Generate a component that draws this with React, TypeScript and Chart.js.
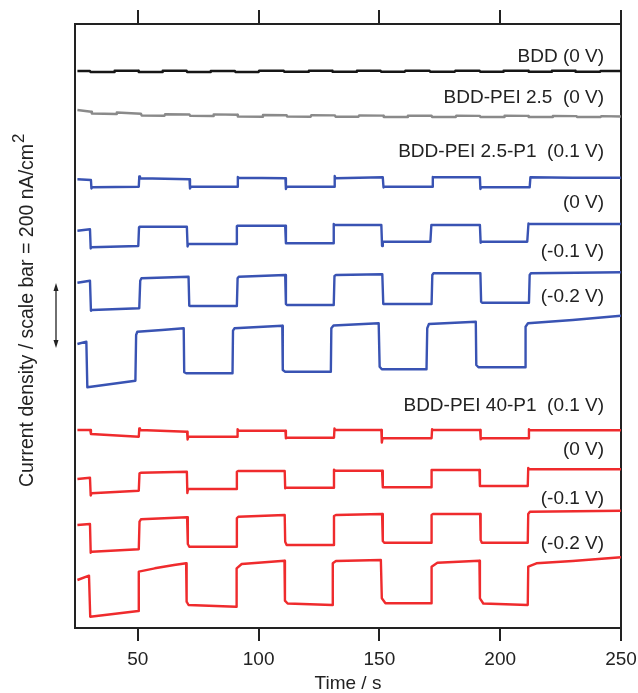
import { useEffect, useRef } from "react";
import { Chart, registerables } from "chart.js";

Chart.register(...registerables);

const FONT = "'Liberation Sans', Arial, Helvetica, sans-serif";
const INK = "#222222";

// X axis ticks (time, s)
const xTickValues = [50, 100, 150, 200, 250];

// Stacked current traces, offset units (65 units = 200 nA/cm^2 scale bar)
const bddTime = [25, 30.2, 30.4, 40.2, 40.4, 50.2, 50.4, 60.1, 60.3, 70.2, 70.4, 80.0, 80.2, 90.2, 90.4, 100.0, 100.2, 110.4, 110.6, 120.6, 120.8, 130.4, 130.6, 140.5, 140.7, 150.5, 150.7, 160.5, 160.7, 170.8, 171.0, 181.2, 181.4, 191.5, 191.7, 201.2, 201.4, 211.6, 211.8, 221.2, 221.4, 231.0, 231.2, 241.3, 241.5, 250];
const bddValues = [557, 557, 556, 556, 557.2, 557.2, 556, 556, 557.2, 557.2, 556, 556, 557, 557, 556, 556, 557.2, 557.2, 556.2, 556.2, 557.2, 557.2, 556.3, 556.3, 557.2, 557.2, 556.3, 556.3, 557.2, 557.2, 556.3, 556.3, 557.2, 557.2, 556.3, 556.3, 557.2, 557.2, 556.3, 556.3, 557.2, 557.2, 556.3, 556.3, 557, 557];

const pei25Time = [25, 30.7, 31.0, 41.0, 41.3, 51.3, 51.6, 61.1, 61.3, 71.4, 71.7, 81.2, 81.4, 91.2, 91.4, 101.6, 101.8, 111.6, 111.8, 121.6, 121.8, 131.6, 131.8, 141.4, 141.6, 151.6, 151.8, 161.6, 161.8, 171.6, 171.8, 181.6, 181.8, 191.6, 191.8, 201.6, 201.8, 211.6, 211.8, 221.6, 221.8, 231.6, 231.8, 241.6, 241.8, 250];
const pei25Values = [518, 516.3, 514.5, 514, 515.5, 514.2, 512.5, 512.3, 513.8, 513.5, 512.2, 512, 513.6, 513.3, 511.5, 511.3, 513, 512.8, 511.4, 511.3, 512.8, 512.6, 511.3, 511.3, 512.6, 512.4, 511.1, 511, 512.4, 512.2, 511, 511, 512.3, 512.1, 511, 511, 512.2, 512.1, 511, 511, 512.1, 511.9, 511, 511, 511.9, 511.5];

const p1a01Time = [25, 30.6, 30.8, 31.1, 50.4, 50.6, 50.9, 71.4, 71.6, 71.9, 91.2, 91.4, 91.7, 111.1, 111.3, 111.6, 131.3, 131.5, 131.8, 151.4, 151.7, 152.0, 171.8, 172.1, 172.4, 191.6, 191.8, 192.1, 212.2, 212.5, 230, 250];
const p1a01Values = [448.7, 448, 439.5, 440.7, 441.3, 451.5, 449.7, 448.7, 439.5, 441.3, 441.3, 451, 450.3, 449.7, 439, 441.3, 441.3, 452, 449.7, 450.7, 440.5, 441.3, 441.3, 451, 450.7, 450.7, 439, 440.7, 440.7, 450.7, 450.2, 450.2];

const p1a00Time = [25, 30.2, 30.5, 30.8, 50.2, 50.5, 50.8, 70.3, 70.6, 70.9, 90.7, 91, 91.3, 111, 111.3, 130.8, 131.1, 131.4, 150.8, 151.1, 151.4, 171.1, 171.5, 191.6, 191.9, 192.2, 211.2, 211.7, 212.1, 250];
const p1a00Values = [397.3, 398.7, 379.5, 380.7, 382, 400.7, 401.3, 401.3, 381.5, 384, 384, 402, 402.3, 402.3, 384.7, 384.7, 404, 403, 403, 382, 386.3, 386.3, 403, 403, 385.3, 386.3, 386.3, 404.5, 404, 404];

const p1am01Time = [25, 30.2, 30.6, 31, 50.6, 51, 51.5, 71, 71.3, 71.7, 91, 91.3, 91.8, 111, 111.3, 111.7, 131.1, 131.4, 132, 151.2, 151.6, 171.6, 171.9, 172.4, 191.8, 192.1, 192.5, 211.9, 212.2, 212.7, 250];
const p1am01Values = [345.3, 347.3, 317.3, 318, 319.7, 347.3, 349.7, 351.3, 322.3, 322, 322, 349.7, 351.3, 353, 324, 323, 323, 352, 353, 353.7, 324, 324, 353, 354.7, 354.7, 326.3, 325.3, 325.3, 353, 354.7, 355.7];

const p1am02Time = [25, 28.7, 29.1, 49, 49.3, 49.8, 60, 69, 69.2, 70, 89.2, 89.4, 90, 109.8, 110, 111, 129.9, 130.1, 131, 149.7, 150.1, 151, 169.5, 169.8, 170.5, 189.9, 190.1, 191, 210.3, 210.5, 211.5, 230, 250];
const p1am02Values = [284, 286.3, 240.7, 247.3, 293, 296.3, 298, 299.7, 255.7, 254.7, 254.7, 297.3, 299.7, 302.3, 258, 256.3, 256.3, 299.7, 302.5, 304.7, 261.3, 258.7, 258.7, 299.7, 304, 306.3, 263, 260.7, 260.7, 301.3, 304.7, 308, 312.3];

const p40a01Time = [25, 30.3, 30.6, 50.4, 50.6, 50.9, 70.4, 70.6, 70.9, 91.1, 91.3, 91.7, 111.1, 111.3, 111.7, 131.2, 131.4, 131.7, 150.8, 151.0, 151.3, 171.6, 171.8, 172.2, 191.7, 191.9, 192.3, 211.7, 211.9, 212.3, 250];
const p40a01Values = [198, 198, 194, 191.3, 199.5, 198, 196.3, 188.5, 191.3, 191.3, 198.7, 197.3, 197.3, 189.7, 190.3, 190.3, 199.5, 198, 198, 185.5, 189.7, 189.7, 198.7, 198, 198, 188.7, 189.7, 189.7, 198.7, 197.7, 197.7];

const p40a00Time = [25, 30.2, 30.5, 30.8, 50.4, 50.7, 51.2, 70.3, 70.5, 70.8, 90.8, 91, 91.5, 110.8, 111, 111.4, 131, 131.2, 131.6, 151.1, 151.4, 171.4, 171.6, 191.4, 191.6, 211.4, 211.6, 212, 250];
const p40a00Values = [149, 150.3, 132.5, 134.7, 137.3, 154.7, 155.3, 156.3, 135, 139, 139, 156.3, 157, 157, 139.7, 140.3, 140.3, 158.3, 157.3, 157.3, 140.7, 140.7, 158, 158, 142, 142, 160, 158.7, 158.7];

const p40am01Time = [25, 30.2, 30.5, 31, 50.4, 50.7, 51.3, 70.4, 70.7, 71.3, 90.8, 91, 91.6, 110.8, 111, 111.6, 131, 131.2, 132, 151.1, 151.4, 152, 171.4, 171.6, 172.2, 191.7, 191.9, 192.4, 211.4, 211.6, 212.3, 250];
const p40am01Values = [103, 104, 75.3, 76.3, 78.7, 106.3, 108.7, 110.7, 84, 81.3, 81.3, 109.7, 111.3, 113, 86.3, 83, 83, 112, 113, 114, 87, 85.3, 85.3, 113, 114, 114, 88, 85.3, 85.3, 114, 116.3, 117.3];

const p40am02Time = [25, 29.8, 30.3, 50.2, 50.4, 57, 65, 70, 70.2, 71, 90.7, 90.9, 93, 110.7, 110.9, 112, 130.5, 130.7, 132, 150.6, 151.0, 152.5, 171.4, 171.6, 174, 191.4, 191.6, 193, 211.4, 211.6, 215, 230, 250];
const p40am02Values = [48, 52.3, 11.3, 17, 56.3, 59.7, 63, 64.7, 26.3, 23, 21.3, 59.7, 64, 67.3, 27.3, 24.5, 23, 64.7, 67, 68, 29.7, 24.7, 24.7, 61.3, 65.3, 67.3, 29.7, 24.5, 23, 61.3, 64.7, 67, 70.7];

// Trace annotations (text, offset-unit height)
const traceLabels = [
  "BDD (0 V)",
  "BDD-PEI 2.5  (0 V)",
  "BDD-PEI 2.5-P1  (0.1 V)",
  "(0 V)",
  "(-0.1 V)",
  "(-0.2 V)",
  "BDD-PEI 40-P1  (0.1 V)",
  "(0 V)",
  "(-0.1 V)",
  "(-0.2 V)",
];
const traceLabelLevels = [571.5, 530, 476, 425, 376.5, 331.5, 222, 178, 129.5, 84.5];
const labelRightTime = 243;

// scale bar: 65 offset units = 200 nA/cm^2
const scaleBarTop = 345;
const scaleBarBottom = 280;

const BLUE = "#3953b3";
const RED = "#ef2b2d";

const series = [
  { t: bddTime, v: bddValues, color: "#161616" },
  { t: pei25Time, v: pei25Values, color: "#8a8a8a" },
  { t: p1a01Time, v: p1a01Values, color: BLUE },
  { t: p1a00Time, v: p1a00Values, color: BLUE },
  { t: p1am01Time, v: p1am01Values, color: BLUE },
  { t: p1am02Time, v: p1am02Values, color: BLUE },
  { t: p40a01Time, v: p40a01Values, color: RED },
  { t: p40a00Time, v: p40a00Values, color: RED },
  { t: p40am01Time, v: p40am01Values, color: RED },
  { t: p40am02Time, v: p40am02Values, color: RED },
];

const annotations = {
  id: "annotations",
  afterDraw(chart: any) {
    const ctx = chart.ctx as CanvasRenderingContext2D;
    const xs = chart.scales.x;
    const ys = chart.scales.y;
    const area = chart.chartArea;
    ctx.save();
    ctx.fillStyle = INK;
    ctx.font = `19px ${FONT}`;
    ctx.textAlign = "right";
    ctx.textBaseline = "middle";
    const lx = xs.getPixelForValue(labelRightTime);
    traceLabels.forEach((txt, i) => {
      ctx.fillText(txt, lx, ys.getPixelForValue(traceLabelLevels[i]));
    });

    // x title
    ctx.textAlign = "center";
    ctx.fillText("Time / s", (area.left + area.right) / 2, 684);

    // y title with superscript
    ctx.save();
    ctx.translate(33, 487);
    ctx.rotate(-Math.PI / 2);
    ctx.textAlign = "left";
    ctx.textBaseline = "alphabetic";
    ctx.font = `19.5px ${FONT}`;
    const main = "Current density / scale bar = 200 nA/cm";
    ctx.fillText(main, 0, 0);
    const w = ctx.measureText(main).width;
    ctx.font = `17px ${FONT}`;
    ctx.fillText("2", w + 1, -9);
    ctx.restore();

    // scale bar arrow
    const ax = 56;
    const y1 = ys.getPixelForValue(scaleBarTop);
    const y2 = ys.getPixelForValue(scaleBarBottom);
    ctx.strokeStyle = INK;
    ctx.lineWidth = 1.3;
    ctx.beginPath();
    ctx.moveTo(ax, y1 + 4);
    ctx.lineTo(ax, y2 - 4);
    ctx.stroke();
    ctx.beginPath();
    ctx.moveTo(ax, y1);
    ctx.lineTo(ax - 2.5, y1 + 8);
    ctx.lineTo(ax + 2.5, y1 + 8);
    ctx.closePath();
    ctx.fill();
    ctx.beginPath();
    ctx.moveTo(ax, y2);
    ctx.lineTo(ax - 2.5, y2 - 8);
    ctx.lineTo(ax + 2.5, y2 - 8);
    ctx.closePath();
    ctx.fill();
    ctx.restore();
  },
};

export default function App() {
  const ref = useRef<HTMLCanvasElement>(null);
  useEffect(() => {
    const canvas = ref.current!;
    const axisGrid = (len: number) => ({
      display: true,
      drawOnChartArea: false,
      drawTicks: true,
      tickLength: len,
      color: INK,
      lineWidth: 2,
    });
    const chart = new Chart(canvas, {
      type: "line",
      data: {
        datasets: series.map((s) => ({
          data: s.t.map((t, i) => ({ x: t, y: s.v[i] })),
          borderColor: s.color,
          borderWidth: 2.4,
          pointRadius: 0,
          tension: 0,
          fill: false,
          borderJoinStyle: "round",
          borderCapStyle: "butt",
        })),
      },
      options: {
        animation: false,
        responsive: false,
        devicePixelRatio: 1,
        layout: { padding: 0 },
        plugins: { legend: { display: false }, tooltip: { enabled: false }, title: { display: false } },
        scales: {
          x: {
            type: "linear",
            position: "bottom",
            min: 24,
            max: 250,
            afterBuildTicks: (s: any) => {
              s.ticks = xTickValues.map((v) => ({ value: v }));
            },
            ticks: { font: { family: FONT, size: 19 }, color: INK, padding: 7, maxRotation: 0 },
            grid: axisGrid(13),
            border: { display: true, color: INK, width: 2 },
            afterFit: (s: any) => {
              s.height = 65;
              s.paddingLeft = 0;
              s.paddingRight = 0;
            },
          },
          xTop: {
            type: "linear",
            position: "top",
            min: 24,
            max: 250,
            afterBuildTicks: (s: any) => {
              s.ticks = xTickValues.map((v) => ({ value: v }));
            },
            ticks: { display: false },
            grid: axisGrid(14),
            border: { display: true, color: INK, width: 2 },
            afterFit: (s: any) => {
              s.height = 24;
              s.paddingLeft = 0;
              s.paddingRight = 0;
            },
          },
          y: {
            type: "linear",
            position: "left",
            min: 0,
            max: 604,
            ticks: { display: false },
            grid: { display: false, drawTicks: false },
            border: { display: true, color: INK, width: 2 },
            afterFit: (s: any) => {
              s.width = 75;
              s.paddingTop = 0;
              s.paddingBottom = 0;
            },
          },
          yRight: {
            type: "linear",
            position: "right",
            min: 0,
            max: 604,
            ticks: { display: false },
            grid: { display: false, drawTicks: false },
            border: { display: true, color: INK, width: 2 },
            afterFit: (s: any) => {
              s.width = 17;
              s.paddingTop = 0;
              s.paddingBottom = 0;
            },
          },
        },
      },
      plugins: [annotations],
    } as any);
    return () => chart.destroy();
  }, []);
  return (
    <div style={{ position: "fixed", left: 0, top: 0, width: 638, height: 693, background: "#fff" }}>
      <canvas ref={ref} width={638} height={693} style={{ width: 638, height: 693, display: "block" }} />
    </div>
  );
}
